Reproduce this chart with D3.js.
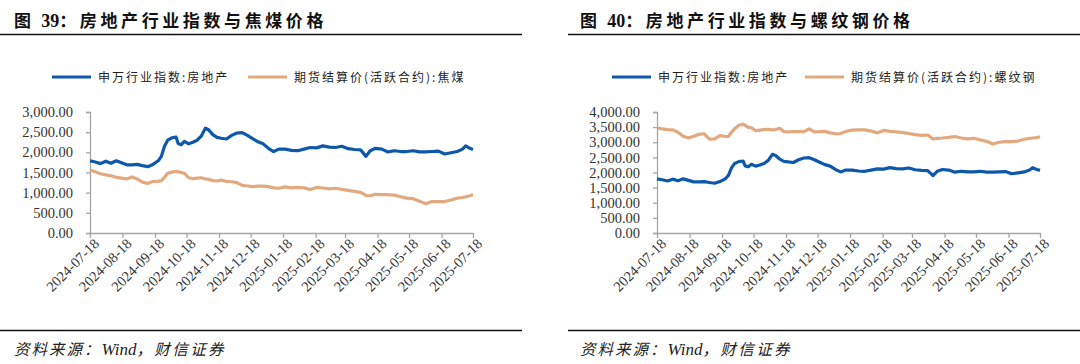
<!DOCTYPE html>
<html>
<head>
<meta charset="utf-8">
<script src="https://cdn.jsdelivr.net/npm/d3@7"></script>
<style>
  html, body { margin: 0; padding: 0; background: #fff; }
  svg { display: block; }
</style>
</head>
<body>
<svg id="chart" width="1080" height="364"></svg>
<script>
// ---------------- DATA ----------------
const dates = [
  "2024-07-18","2024-07-23","2024-07-28","2024-08-02","2024-08-07","2024-08-12","2024-08-17","2024-08-22",
  "2024-08-27","2024-09-01","2024-09-06","2024-09-11","2024-09-16","2024-09-21","2024-09-24","2024-09-27",
  "2024-09-30","2024-10-04","2024-10-08","2024-10-10","2024-10-13","2024-10-16","2024-10-20","2024-10-24",
  "2024-10-28","2024-11-01","2024-11-05","2024-11-08","2024-11-12","2024-11-16","2024-11-20","2024-11-25",
  "2024-11-30","2024-12-05","2024-12-10","2024-12-15","2024-12-20","2024-12-25","2024-12-30","2025-01-04",
  "2025-01-09","2025-01-14","2025-01-20","2025-01-26","2025-02-01","2025-02-07","2025-02-13","2025-02-19",
  "2025-02-25","2025-03-03","2025-03-09","2025-03-15","2025-03-21","2025-03-27","2025-04-02","2025-04-07",
  "2025-04-11","2025-04-16","2025-04-22","2025-04-28","2025-05-04","2025-05-10","2025-05-16","2025-05-22",
  "2025-05-28","2025-06-03","2025-06-09","2025-06-15","2025-06-21","2025-06-27","2025-07-03","2025-07-08",
  "2025-07-11","2025-07-15","2025-07-18"
];
// 申万行业指数:房地产
const realEstateIndex = [
  1790,1760,1720,1780,1730,1790,1740,1690,
  1690,1700,1670,1645,1700,1790,1900,2150,
  2300,2360,2380,2220,2190,2270,2210,2250,
  2300,2400,2600,2560,2440,2370,2350,2330,
  2420,2480,2490,2420,2340,2260,2210,2100,
  2020,2080,2080,2050,2040,2080,2120,2110,
  2160,2130,2120,2150,2090,2070,2060,1900,
  2040,2100,2080,2010,2040,2020,2020,2040,
  2010,2010,2020,2030,1960,1990,2020,2080,
  2160,2100,2070
];
// 期货结算价(活跃合约):焦煤
const cokingCoal = [
  1560,1520,1470,1440,1420,1380,1360,1340,
  1390,1340,1260,1230,1280,1280,1300,1380,
  1480,1510,1530,1520,1500,1480,1370,1350,
  1360,1370,1340,1330,1300,1290,1310,1280,
  1270,1250,1180,1165,1150,1160,1160,1150,
  1120,1110,1145,1120,1130,1120,1080,1130,
  1115,1095,1110,1080,1058,1033,1008,930,
  924,960,950,949,940,900,864,850,
  790,725,780,780,780,820,864,880,
  900,924,945
];
// 期货结算价(活跃合约):螺纹钢
const rebar = [
  3480,3440,3420,3410,3330,3200,3140,3200,
  3260,3280,3100,3110,3220,3190,3190,3330,
  3450,3560,3600,3560,3490,3480,3380,3400,
  3420,3430,3410,3420,3460,3350,3340,3350,
  3350,3350,3440,3340,3350,3360,3310,3280,
  3290,3360,3400,3410,3410,3370,3310,3390,
  3360,3340,3320,3290,3250,3230,3240,3110,
  3130,3140,3160,3190,3140,3110,3130,3080,
  3030,2940,3000,3020,3020,3040,3100,3130,
  3140,3150,3180
];
const xTickLabels = [
  "2024-07-18","2024-08-18","2024-09-18","2024-10-18","2024-11-18","2024-12-18",
  "2025-01-18","2025-02-18","2025-03-18","2025-04-18","2025-05-18","2025-06-18","2025-07-18"
];
const yTicksCoal = [0, 500, 1000, 1500, 2000, 2500, 3000];
const yTicksRebar = [0, 500, 1000, 1500, 2000, 2500, 3000, 3500, 4000];
const titleParts = [
  ["图 ", "39", "：房地产行业指数与焦煤价格"],
  ["图 ", "40", "：房地产行业指数与螺纹钢价格"]
];
const seriesNames = ["申万行业指数:房地产", "期货结算价(活跃合约):焦煤", "期货结算价(活跃合约):螺纹钢"];
const sourceParts = ["资料来源：", "Wind", "，财信证券"];

// ---------------- DRAW ----------------
const parse = d3.timeParse("%Y-%m-%d");
const BLUE = "#0E58AC";
const TAN = "#E2A97F";
const AXIS = "#A6A6A6";
const svg = d3.select("#chart");

const panels = [
  { title: titleParts[0], ruleX0: 0, ruleX1: 522, textX: 14, legBlue: 52, legTan: 248,
    x0: 90, x1: 473, yTicks: yTicksCoal, second: cokingCoal, secondName: seriesNames[1] },
  { title: titleParts[1], ruleX0: 568, ruleX1: 1080, textX: 580, legBlue: 612, legTan: 805,
    x0: 657, x1: 1040, yTicks: yTicksRebar, second: rebar, secondName: seriesNames[2] }
];
const yTop = 112, yBot = 233;

panels.forEach(p => {
  const g = svg.append("g");
  // title
  const t = g.append("text")
    .attr("x", p.textX).attr("y", 27)
    .attr("font-family", "'Liberation Serif','Noto Sans CJK SC',serif")
    .attr("font-weight", 700)
    .attr("font-size", 17)
    .attr("fill", "#111");
  t.append("tspan").attr("letter-spacing", "3px").text(p.title[0]);
  t.append("tspan").attr("font-size", 18).attr("letter-spacing", "0px").text(p.title[1]);
  t.append("tspan").attr("letter-spacing", "3.6px").text(p.title[2]);
  // rules
  g.append("line").attr("x1", p.ruleX0).attr("x2", p.ruleX1).attr("y1", 34.5).attr("y2", 34.5)
    .attr("stroke", "#111").attr("stroke-width", 1.6);
  g.append("line").attr("x1", p.ruleX0).attr("x2", p.ruleX1).attr("y1", 330.5).attr("y2", 330.5)
    .attr("stroke", "#111").attr("stroke-width", 1.6);
  // footer
  const f = g.append("text")
    .attr("x", p.textX).attr("y", 355)
    .attr("font-family", "'Liberation Serif','Noto Sans CJK SC',serif")
    .attr("font-style", "italic")
    .attr("font-size", 15.5)
    .attr("fill", "#222");
  f.append("tspan").attr("letter-spacing", "2px").text(sourceParts[0]);
  f.append("tspan").attr("font-size", 17).attr("letter-spacing", "0px").text(sourceParts[1]);
  f.append("tspan").attr("letter-spacing", "2.4px").text(sourceParts[2]);

  // legend
  const legY = 77;
  const legItems = [
    { x: p.legBlue, color: BLUE, name: seriesNames[0] },
    { x: p.legTan, color: TAN, name: p.secondName }
  ];
  legItems.forEach(li => {
    g.append("line").attr("x1", li.x).attr("x2", li.x + 39).attr("y1", legY).attr("y2", legY)
      .attr("stroke", li.color).attr("stroke-width", 3.2);
    g.append("text").attr("x", li.x + 46).attr("y", legY + 4.5)
      .attr("font-family", "'Noto Sans CJK SC',sans-serif")
      .attr("font-size", 12)
      .attr("letter-spacing", "2px")
      .attr("fill", "#222")
      .text(li.name);
  });

  // scales
  const x = d3.scaleTime()
    .domain([parse(xTickLabels[0]), parse(xTickLabels[xTickLabels.length - 1])])
    .range([p.x0, p.x1]);
  const y = d3.scaleLinear()
    .domain([0, p.yTicks[p.yTicks.length - 1]])
    .range([yBot, yTop]);

  // y axis
  const yAxis = d3.axisLeft(y).tickValues(p.yTicks).tickFormat(d3.format(",.2f"))
    .tickSize(4).tickPadding(13);
  const ya = g.append("g").attr("transform", `translate(${p.x0},0)`).call(yAxis);
  ya.select(".domain").attr("stroke", AXIS).attr("stroke-width", 1.3);
  ya.selectAll(".tick line").attr("stroke", AXIS).attr("stroke-width", 1.3);
  ya.selectAll(".tick text")
    .attr("font-family", "'Liberation Serif','Times New Roman',serif")
    .attr("font-size", 14.5)
    .attr("fill", "#333");

  // x axis
  const xAxis = d3.axisBottom(x).tickValues(xTickLabels.map(parse))
    .tickFormat(d3.timeFormat("%Y-%m-%d")).tickSize(5).tickSizeOuter(0);
  const xa = g.append("g").attr("transform", `translate(0,${yBot})`).call(xAxis);
  xa.select(".domain").attr("stroke", AXIS).attr("stroke-width", 1.3);
  xa.selectAll(".tick line").attr("stroke", AXIS).attr("stroke-width", 1.3);
  xa.selectAll(".tick text")
    .attr("font-family", "'Liberation Serif','Times New Roman',serif")
    .attr("font-size", 14.5)
    .attr("fill", "#333")
    .attr("text-anchor", "end")
    .attr("dy", "0.35em")
    .attr("transform", "translate(6,8) rotate(-45)")
    .attr("x", 0).attr("y", 0);

  // lines
  const line = vals => d3.line()
    .x((d, i) => x(parse(dates[i])))
    .y(d => y(d))(vals);
  g.append("path").attr("d", line(p.second))
    .attr("fill", "none").attr("stroke", TAN).attr("stroke-width", 3.2)
    .attr("stroke-linejoin", "round");
  g.append("path").attr("d", line(realEstateIndex))
    .attr("fill", "none").attr("stroke", BLUE).attr("stroke-width", 3.2)
    .attr("stroke-linejoin", "round");
});
</script>
</body>
</html>
